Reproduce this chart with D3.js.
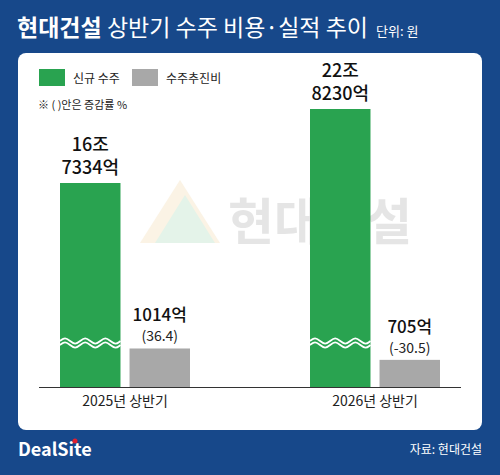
<!DOCTYPE html>
<html><head><meta charset="utf-8">
<script src="https://cdn.jsdelivr.net/npm/d3@7"></script>
<style>body{margin:0;background:#17488a}text{font-family:"Noto Sans CJK KR","Noto Sans",sans-serif}</style>
</head><body>
<svg width="500" height="475"></svg>
<script>
const periods = ['2025년 상반기', '2026년 상반기'];
const newOrders = [167334, 228230];          // 억원
const orderCosts = [1014, 705];              // 억원
const newLabels = [['16조', '7334억'], ['22조', '8230억']];
const costLabels = ['1014억', '705억'];
const costChange = ['(36.4)', '(-30.5)'];

const svg = d3.select('svg');
svg.append('rect').attr('width', 500).attr('height', 475).attr('fill', '#17488a');
svg.append('rect').attr('x', 18).attr('y', 53).attr('width', 464).attr('height', 377).attr('rx', 8).attr('fill', '#fff');

// title
const t = svg.append('text').attr('x', 17).attr('y', 36).attr('fill', '#fff').attr('font-size', 23);
t.append('tspan').attr('font-weight', 700).text('현대건설 ');
t.append('tspan').attr('font-weight', 400).text('상반기 수주 비용·실적 추이');
t.append('tspan').attr('font-size', 13).attr('dx', 8).text('단위: 원');

// watermark
const wm = svg.append('g').attr('opacity', 0.12);
wm.append('path').attr('d', 'M140,243 L180,180 L220,243 Z').attr('fill', '#e0a030');
wm.append('path').attr('d', 'M155,243 L185,195 L215,243 Z').attr('fill', '#2aa050');
wm.append('text').attr('x', 228).attr('y', 240).attr('font-size', 50).attr('font-weight', 700).attr('fill', '#333').text('현대건설');

// legend
svg.append('rect').attr('x', 39).attr('y', 69).attr('width', 26).attr('height', 17).attr('fill', '#29a350');
svg.append('text').attr('x', 73).attr('y', 83).attr('font-size', 12).attr('fill', '#222').text('신규 수주');
svg.append('rect').attr('x', 132).attr('y', 69).attr('width', 26).attr('height', 17).attr('fill', '#a8a8a8');
svg.append('text').attr('x', 166).attr('y', 83).attr('font-size', 12).attr('fill', '#222').text('수주추진비');
svg.append('text').attr('x', 38).attr('y', 109).attr('font-size', 11).attr('fill', '#222').text('※ (  )안은 증감률 %');

// scales (broken axis)
const x = d3.scaleBand().domain(periods).range([39, 461]).paddingInner(0.48).paddingOuter(0.084);
const sub = d3.scaleBand().domain(['new', 'cost']).range([0, x.bandwidth()]).paddingInner(0.13).paddingOuter(0);
const y = d3.scaleLinear().domain([0, 1000, 167334, 228230]).range([387, 348.5, 183, 109]);

const g = svg.selectAll('g.grp').data(periods).join('g').attr('class', 'grp')
  .attr('transform', d => `translate(${x(d)},0)`);

g.append('rect').attr('x', sub('new')).attr('width', sub.bandwidth())
  .attr('y', (d, i) => y(newOrders[i])).attr('height', (d, i) => 387 - y(newOrders[i])).attr('fill', '#29a350');
g.append('rect').attr('x', sub('cost')).attr('width', sub.bandwidth())
  .attr('y', (d, i) => y(orderCosts[i])).attr('height', (d, i) => 387 - y(orderCosts[i])).attr('fill', '#a8a8a8');

// wave break
const wave = d3.line().curve(d3.curveBasis);
[0, 4].forEach(off => {
  g.append('path').attr('fill', 'none').attr('stroke', '#fff').attr('stroke-width', 1.8)
    .attr('d', () => {
      const x0 = sub('new'), w = sub.bandwidth(), pts = [];
      for (let k = 0; k <= 12; k++) pts.push([x0 + w * k / 12, 341 + off + (k % 4 === 1 ? -4 : k % 4 === 3 ? 4 : 0)]);
      return wave(pts);
    });
});

g.each(function(d, i) {
  const s = d3.select(this), cx = sub('new') + sub.bandwidth() / 2, gx = sub('cost') + sub.bandwidth() / 2;
  newLabels[i].forEach((l, j) => s.append('text').attr('x', cx).attr('y', y(newOrders[i]) - 32 + j * 23)
    .attr('text-anchor', 'middle').attr('font-size', 18).attr('font-weight', 500).attr('fill', '#111').text(l));
  s.append('text').attr('x', gx).attr('y', y(orderCosts[i]) - 27).attr('text-anchor', 'middle')
    .attr('font-size', 17).attr('font-weight', 500).attr('fill', '#111').text(costLabels[i]);
  s.append('text').attr('x', gx).attr('y', y(orderCosts[i]) - 7).attr('text-anchor', 'middle')
    .attr('font-size', 14).attr('fill', '#222').text(costChange[i]);
});

svg.append('line').attr('x1', 39).attr('x2', 461).attr('y1', 387.5).attr('y2', 387.5).attr('stroke', '#333');
svg.append('g').attr('transform', 'translate(0,388)')
  .call(d3.axisBottom(x).tickSize(0).tickPadding(8))
  .call(a => a.select('.domain').remove())
  .selectAll('text').attr('font-size', 14).attr('fill', '#222');

// footer
svg.append('text').attr('x', 18).attr('y', 456).attr('font-family', 'Roboto,sans-serif').attr('font-weight', 700).attr('font-size', 18).attr('fill', '#fff').text('DealSite');
svg.append('circle').attr('cx', 75).attr('cy', 441).attr('r', 2.5).attr('fill', '#e02030');
svg.append('text').attr('x', 482).attr('y', 454).attr('text-anchor', 'end').attr('font-size', 12).attr('fill', '#fff').text('자료: 현대건설');
</script>
</body></html>
